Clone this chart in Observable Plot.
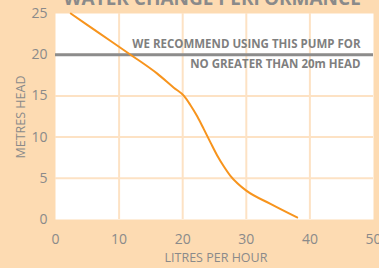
<!DOCTYPE html>
<html><head><meta charset="utf-8">
<script src="https://cdn.jsdelivr.net/npm/d3@7"></script>
<script src="https://cdn.jsdelivr.net/npm/@observablehq/plot@0.6"></script>
<style>
html,body{margin:0;padding:0;background:#fddbb2;}
</style>
</head><body><div id="chart"></div>
<script>
const flow = [2.4, 7.1, 11.8, 16, 18.6, 20.2, 21.2, 22.3, 23.3, 24.4, 25.4, 26.5, 27.5, 28.6, 30, 33.8, 38];
const head = [25, 22.5, 20, 17.7, 16.0, 15.0, 13.9, 12.5, 11.0, 9.3, 7.8, 6.4, 5.3, 4.4, 3.5, 1.9, 0.25];
const xTicks = [0, 10, 20, 30, 40, 50];
const yTicks = [0, 5, 10, 15, 20, 25];
const limitHead = 20;
const noteLines = ["WE RECOMMEND USING THIS PUMP FOR", "NO GREATER THAN 20m HEAD"];
const title = "WATER CHANGE PERFORMANCE";

const curve = flow.map((f, i) => ({flow: f, head: head[i]}));
const peach = "#fddbb2";
const gridC = "#fde2c4";
const gray = "#8a8a8a";

const chart = Plot.plot({
  width: 379, height: 268,
  marginLeft: 55, marginRight: 6, marginTop: 13, marginBottom: 49,
  style: {background: peach, fontFamily: "'Open Sans', sans-serif", color: gray, overflow: "visible"},
  x: {domain: [0, 50], ticks: xTicks, label: null},
  y: {domain: [0, 25], ticks: yTicks, label: null},
  marks: [
    Plot.frame({fill: "white", stroke: null}),
    Plot.gridX(xTicks.slice(1, -1), {stroke: gridC, strokeOpacity: 1, strokeWidth: 2}),
    Plot.gridY(yTicks.slice(1, -1), {stroke: gridC, strokeOpacity: 1, strokeWidth: 2}),
    Plot.ruleY([limitHead], {stroke: "#8c8c8c", strokeWidth: 3}),
    Plot.text([noteLines[0]], {x: 50, y: limitHead, text: d => d, textAnchor: "end", dx: -13, dy: -10, fontWeight: "bold", fontSize: 11.5, fill: "#7f7f7f"}),
    Plot.text([noteLines[1]], {x: 50, y: limitHead, text: d => d, textAnchor: "end", dx: -13, dy: 10, fontWeight: "bold", fontSize: 11.5, fill: "#7f7f7f"}),
    Plot.line(curve, {x: "flow", y: "head", stroke: "#f7941d", strokeWidth: 2, curve: "monotone-x"}),
    Plot.axisX(xTicks, {tickSize: 0, tickPadding: 15, fontSize: 14, fill: gray, label: null}),
    Plot.axisY(yTicks, {tickSize: 0, tickPadding: 8, fontSize: 14, fill: gray, label: null})
  ]
});
const svg = d3.select(chart);
svg.append("text")
  .attr("x", 212).attr("y", 4.5)
  .attr("text-anchor", "middle")
  .attr("font-size", 19).attr("font-weight", "bold").attr("fill", gray).text(title);
svg.append("text")
  .attr("transform", "translate(22,117) rotate(-90)")
  .attr("text-anchor", "middle").attr("dominant-baseline", "middle")
  .attr("font-size", 12.5).attr("fill", gray).text("METRES HEAD");
svg.append("text")
  .attr("x", 216).attr("y", 259)
  .attr("text-anchor", "middle").attr("dominant-baseline", "middle")
  .attr("font-size", 12.5).attr("fill", gray).text("LITRES PER HOUR");
document.getElementById("chart").appendChild(chart);
</script>
</body></html>
